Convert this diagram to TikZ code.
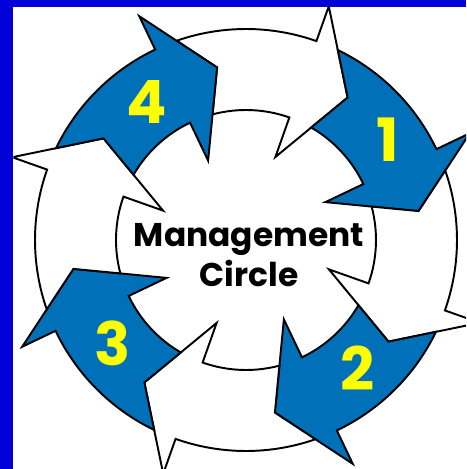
\documentclass[tikz,border=0pt]{standalone}
\usepackage{fontspec}
\setsansfont{Poppins}
\definecolor{framebl}{RGB}{0,0,215}
\definecolor{arrowbl}{RGB}{0,112,184}
\definecolor{numyel}{RGB}{255,255,0}

\begin{document}
\begin{tikzpicture}[
    outline/.style={draw=black, line width=1.1pt, line join=miter},
    numlabel/.style={text=numyel, font=\sffamily\bfseries\fontsize{34}{34}\selectfont},
    titlelabel/.style={align=center, font=\sffamily\bfseries\fontsize{18.7}{23}\selectfont}
  ]

    \useasboundingbox (-4.92, -4.58) rectangle (4.40, 4.80);

    \begin{scope}
        \clip (-4.65, -4.58) rectangle (4.40, 4.66);
        \foreach \t/\c in {54.5/white, 9.5/arrowbl, -35.5/white, -80.5/arrowbl,
                           -125.5/white, -170.5/arrowbl, 144.5/white, 99.5/arrowbl} {
            \filldraw[outline, fill=\c] ({\t+54.7}:4.22)
                arc[start angle=\t+54.7, end angle=\t+16, radius=4.22]
                -- ({\t+16}:4.96) -- (\t:3.5) -- ({\t+16}:1.76) -- ({\t+16}:2.6)
                arc[start angle=\t+16, end angle=\t+50.4, radius=2.6]
                -- ({\t+45}:3.5) -- cycle;
        }
    \end{scope}

    \fill[framebl] (-4.92, -4.58) rectangle (-4.65, 4.80);
    \fill[framebl] (-4.92, 4.66) rectangle (4.40, 4.80);

    \node[titlelabel] (title) at (0.06, -0.30) {Management\\Circle};

    \node[numlabel] (one) at (2.84, 2.0) {1};
    \node[numlabel] (two) at (2.24, -2.56) {2};
    \node[numlabel] (three) at (-2.66, -2.06) {3};
    \node[numlabel] (four) at (-1.98, 2.76) {4};

\end{tikzpicture}
\end{document}
